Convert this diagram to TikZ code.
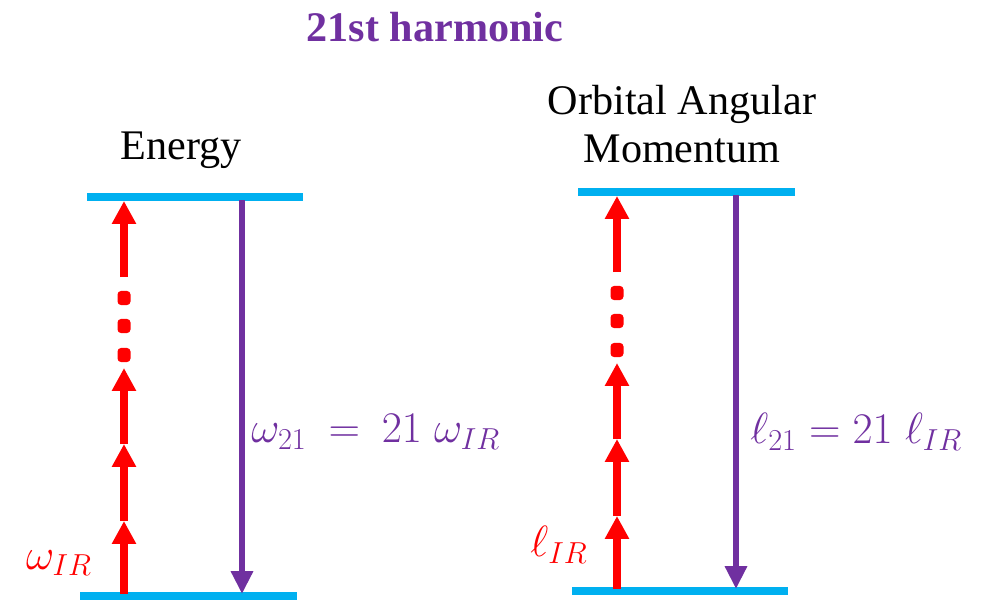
\documentclass[tikz,border=0pt]{standalone}
\usepackage{fontspec}
\setmainfont{Liberation Serif}[BoldFont={Liberation Serif Bold}]
\usetikzlibrary{arrows.meta,positioning}
\DeclareMathSizes{26}{26}{19}{14}
\definecolor{levelblue}{RGB}{0,176,240}
\definecolor{harmpurple}{RGB}{112,48,160}
\definecolor{irred}{RGB}{255,0,0}
\tikzset{
  level/.style={line width=4pt, levelblue},
  photon/.style={-{Triangle[length=13pt,width=13pt]}, line width=4pt, irred},
  emit/.style={-{Triangle[length=13pt,width=12pt]}, line width=3.4pt, harmpurple},
  dotbox/.style={rectangle, rounded corners=2pt, fill=irred, minimum width=7.4pt, minimum height=8pt, inner sep=0pt},
  heading/.style={font=\fontsize{24}{27}\selectfont, align=center, inner sep=0pt},
  lbl/.style={font=\fontsize{26}{29}\selectfont, inner sep=0pt},
}

\begin{document}
\begin{tikzpicture}[x=0.02cm, y=-0.02cm]
  \useasboundingbox (0,0) rectangle (981,599);
  \node[heading, font=\fontsize{24}{27}\selectfont\bfseries, text=harmpurple] (title) at (435,27) {21st harmonic};

  % energy ladder
  \node[heading] (energy) at (181,150) {Energy};
  \coordinate (eTopL) at (87,197);  \coordinate (eTopR) at (303,197);
  \coordinate (eBotL) at (80,596);  \coordinate (eBotR) at (297,596);
  \draw[level] (eTopL) -- (eTopR);
  \draw[level] (eBotL) -- (eBotR);
  \coordinate (e0) at (124,594); \coordinate (e1) at (124,521);
  \coordinate (e2) at (124,444); \coordinate (e3) at (124,368);
  \coordinate (e4) at (124,277); \coordinate (e5) at (124,201);
  \draw[photon] (e0) -- (e1);
  \draw[photon] (e1) -- (e2);
  \draw[photon] (e2) -- (e3);
  \draw[photon] (e4) -- (e5);
  \node[dotbox] (eDot1) at (124,298) {};
  \node[dotbox] (eDot2) at (124,326) {};
  \node[dotbox] (eDot3) at (124,355) {};
  \coordinate (eHi) at (242,200); \coordinate (eLo) at (242,594);
  \draw[emit] (eHi) -- (eLo);
  \node[lbl, text=irred] (wIR) at (59,563) {$\omega_{IR}$};
  \node[lbl, text=harmpurple, anchor=west] (w21) at (251,432) {$\omega_{21}\:=\:21\;\omega_{IR}$};

  % angular momentum ladder
  \node[heading] (oam) at (682,124) {Orbital Angular\\Momentum};
  \coordinate (lTopL) at (578,192); \coordinate (lTopR) at (795,192);
  \coordinate (lBotL) at (572,591); \coordinate (lBotR) at (788,591);
  \draw[level] (lTopL) -- (lTopR);
  \draw[level] (lBotL) -- (lBotR);
  \coordinate (l0) at (617,589); \coordinate (l1) at (617,516);
  \coordinate (l2) at (617,439); \coordinate (l3) at (617,363);
  \coordinate (l4) at (617,272); \coordinate (l5) at (617,196);
  \draw[photon] (l0) -- (l1);
  \draw[photon] (l1) -- (l2);
  \draw[photon] (l2) -- (l3);
  \draw[photon] (l4) -- (l5);
  \node[dotbox] (lDot1) at (617,293) {};
  \node[dotbox] (lDot2) at (617,321) {};
  \node[dotbox] (lDot3) at (617,350) {};
  \coordinate (lHi) at (736,195); \coordinate (lLo) at (736,589);
  \draw[emit] (lHi) -- (lLo);
  \node[lbl, text=irred] (lIR) at (559,545) {$\ell_{IR}$};
  \node[lbl, text=harmpurple, anchor=west] (l21) at (750,432) {$\ell_{21} = 21\;\ell_{IR}$};
\end{tikzpicture}
\end{document}
